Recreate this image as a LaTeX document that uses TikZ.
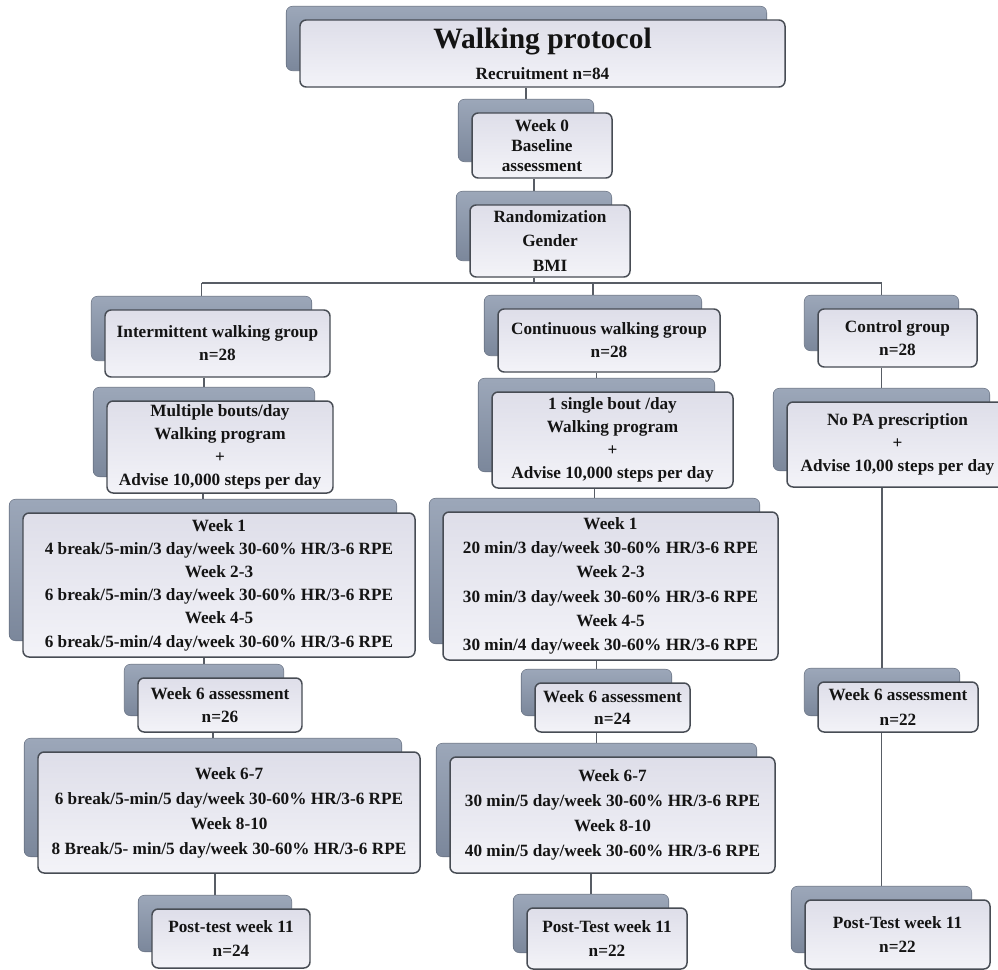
\documentclass[tikz,border=0pt]{standalone}
\usepackage{fontspec}
\setmainfont{Liberation Serif}
\usetikzlibrary{positioning,calc,backgrounds}
\definecolor{boxline}{HTML}{474C54}
\definecolor{boxtop}{HTML}{DEDEE9}
\definecolor{boxbot}{HTML}{F3F3F8}
\definecolor{shadetop}{HTML}{9CA7B9}
\definecolor{shadebot}{HTML}{7B879B}
\definecolor{linkgray}{HTML}{585D65}
\tikzset{
  x=0.02cm, y=-0.02cm,
  block/.style={draw=boxline, line width=0.85pt, rounded corners=3.5pt,
    top color=boxtop, bottom color=boxbot, align=center, inner sep=0pt,
    text=black!92, font=\bfseries\fontsize{9.8}{13}\selectfont},
  spans/.style args={(#1,#2) to (#3,#4)}{at={($(#1,#2)!0.5!(#3,#4)$)},
    minimum width={(#3-#1)*0.02cm}, minimum height={(#4-#2)*0.02cm}},
  spacing/.style={font=\bfseries\fontsize{9.8}{#1}\selectfont},
  backbox/.style={rounded corners=3.5pt, top color=shadetop, bottom color=shadebot,
    draw=shadebot!85!black, line width=0.3pt},
  link/.style={draw=linkgray, line width=0.8pt}
}

\begin{document}
\begin{tikzpicture}
    \useasboundingbox (0,0) rectangle (998,970);

    % top of the protocol
    \node[block, spans={(300,20) to (785,87)}] (title) {{\fontsize{16.8}{20}\selectfont Walking protocol}\\[4.6pt]Recruitment n=84};
    \node[block, spacing=11.6, spans={(472,113) to (612,178)}] (wk0) {Week 0\\Baseline\\assessment};
    \node[block, spacing=14, spans={(470,205) to (630,277)}] (rand) {Randomization\\Gender\\BMI};
    \coordinate (bus) at (0,283);

    % intermittent walking
    \node[block, spans={(105,310) to (330,377)}] (intgrp) {Intermittent walking group\\n=28};
    \node[block, spans={(107,401) to (333,493)}] (intprog) {Multiple bouts/day\\Walking program\\+\\Advise 10,000 steps per day};
    \node[block, spacing=13.2, spans={(23,513) to (415,657)}] (intwk) {Week 1\\4 break/5-min/3 day/week 30-60\% HR/3-6 RPE\\Week 2-3\\6 break/5-min/3 day/week 30-60\% HR/3-6 RPE\\Week 4-5\\6 break/5-min/4 day/week 30-60\% HR/3-6 RPE};
    \node[block, spans={(138,678) to (302,732)}] (intw6) {Week 6 assessment\\n=26};
    \node[block, spacing=14.2, spans={(38,752) to (420,873)}] (intmid) {Week 6-7\\6 break/5-min/5 day/week 30-60\% HR/3-6 RPE\\Week 8-10\\8 Break/5- min/5 day/week 30-60\% HR/3-6 RPE};
    \node[block, spacing=14.2, spans={(152,909) to (310,968)}] (intpost) {Post-test week 11\\n=24};

    % continuous walking
    \node[block, spans={(498,309) to (720,372)}] (contgrp) {Continuous walking group\\n=28};
    \node[block, spans={(492,392) to (733,488)}] (contprog) {1 single bout /day\\Walking program\\+\\Advise 10,000 steps per day};
    \node[block, spacing=13.8, spans={(443,512) to (778,660)}] (contwk) {Week 1\\20 min/3 day/week 30-60\% HR/3-6 RPE\\Week 2-3\\30 min/3 day/week 30-60\% HR/3-6 RPE\\Week 4-5\\30 min/4 day/week 30-60\% HR/3-6 RPE};
    \node[block, spans={(535,683) to (690,732)}] (contw6) {Week 6 assessment\\n=24};
    \node[block, spacing=14.2, spans={(450,757) to (775,873)}] (contmid) {Week 6-7\\30 min/5 day/week 30-60\% HR/3-6 RPE\\Week 8-10\\40 min/5 day/week 30-60\% HR/3-6 RPE};
    \node[block, spacing=14.2, spans={(527,908) to (687,969)}] (contpost) {Post-Test week 11\\n=22};

    % control
    \node[block, spans={(818,309) to (977,367)}] (ctrlgrp) {Control group\\n=28};
    \node[block, spans={(787,402) to (1008,487)}] (ctrlprog) {No PA prescription\\+\\Advise 10,00 steps per day};
    \node[block, spacing=14, spans={(818,682) to (978,732)}] (ctrlw6) {Week 6 assessment\\n=22};
    \node[block, spacing=14.2, spans={(805,900) to (990,969)}] (ctrlpost) {Post-Test week 11\\n=22};

    \begin{scope}[on background layer]
        \fill[white] (0,0) rectangle (998,970);
        \foreach \n in {wk0,rand,intgrp,intprog,intwk,intw6,intmid,intpost,contgrp,contprog,contwk,contw6,contmid,contpost,ctrlgrp,ctrlprog,ctrlw6,ctrlpost}
            \coordinate (\n-top) at ($(\n.north)+(-16,-13)$);
        \draw[link] (rand.south -| rand-top) -- (rand-top |- bus);
        \draw[link] (intgrp-top |- bus) -- (ctrlgrp-top |- bus);
        \foreach \g in {intgrp,contgrp,ctrlgrp}
            \draw[link] (\g-top |- bus) -- (\g-top);
        \foreach \a/\b in {title/wk0,wk0/rand,intgrp/intprog,intprog/intwk,intwk/intw6,intw6/intmid,intmid/intpost,contgrp/contprog,contprog/contwk,contwk/contw6,contw6/contmid,contmid/contpost,ctrlgrp/ctrlprog,ctrlprog/ctrlw6,ctrlw6/ctrlpost}
            \draw[link] (\a.south -| \b-top) -- (\b-top);
        % shadow boxes behind every block
        \foreach \n in {title,wk0,rand,intgrp,intprog,intwk,intw6,intmid,intpost,contgrp,contprog,contwk,contw6,contmid,contpost,ctrlgrp,ctrlprog,ctrlw6,ctrlpost}
            \path[backbox] ($(\n.north west)+(-13,-13)$) rectangle ($(\n.south east)+(-19,-17)$);
    \end{scope}
\end{tikzpicture}
\end{document}
